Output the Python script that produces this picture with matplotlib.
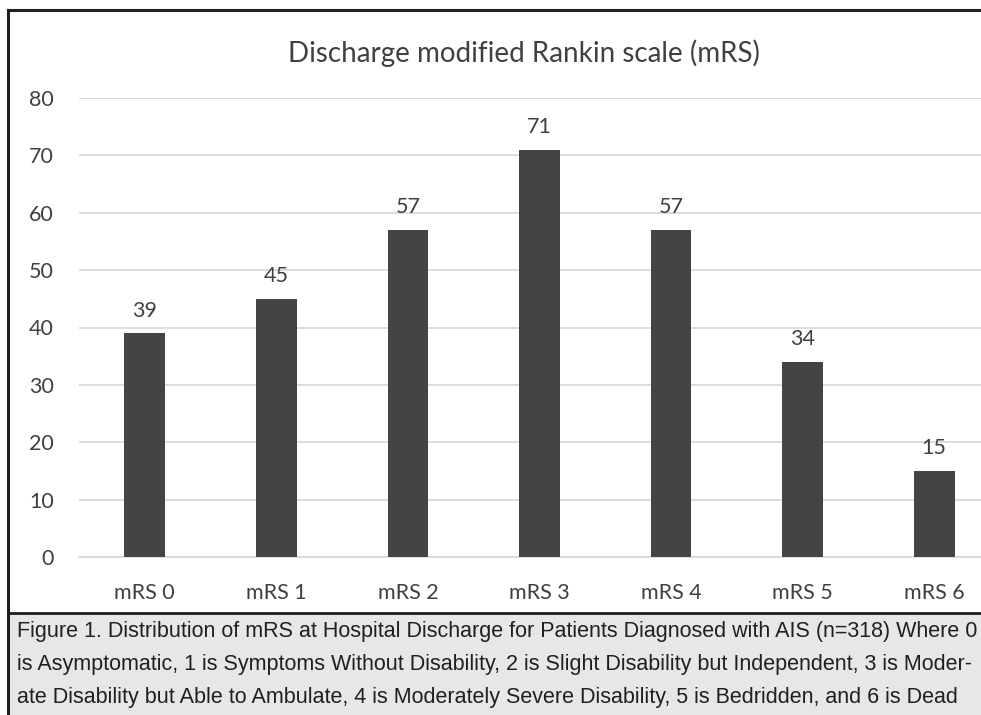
"""
Discharge modified Rankin scale (mRS) bar chart with figure caption.
Saved to out.png.
"""

import matplotlib
matplotlib.use("Agg")
import matplotlib.pyplot as plt
from matplotlib import font_manager
from matplotlib.patches import Rectangle
from matplotlib.lines import Line2D

# --- data -------------------------------------------------------------------
categories = ["mRS 0", "mRS 1", "mRS 2", "mRS 3", "mRS 4", "mRS 5", "mRS 6"]
patients = [39, 45, 57, 71, 57, 34, 15]
y_ticks = [0, 10, 20, 30, 40, 50, 60, 70, 80]

title = "Discharge modified Rankin scale (mRS)"
caption_lines = [
    "Figure 1. Distribution of mRS at Hospital Discharge for Patients Diagnosed with AIS (n=318) Where 0",
    "is Asymptomatic, 1 is Symptoms Without Disability, 2 is Slight Disability but Independent, 3 is Moder-",
    "ate Disability but Able to Ambulate, 4 is Moderately Severe Disability, 5 is Bedridden, and 6 is Dead",
]

COLORS = {
    "bar":     "#444444",
    "grid":    "#d9d9d9",
    "text":    "#404040",
    "caption": "#231f20",
    "cap_bg":  "#e6e7e8",
    "border":  "#231f20",
}

installed = {f.name for f in font_manager.fontManager.ttflist}
CHART_FONT = ["Lato", "DejaVu Sans"]
if "Liberation Sans Narrow" in installed:
    CAP_FONT, CAP_SIZE = ["Liberation Sans Narrow", "DejaVu Sans"], 17.5
else:
    CAP_FONT, CAP_SIZE = ["Liberation Sans", "DejaVu Sans"], 15.5

W, H = 981, 715
fig = plt.figure(figsize=(W / 100, H / 100), dpi=100)
fig.patch.set_facecolor("white")

def px(x, y):
    return x / W, 1 - y / H

# caption band and outer frame
fig.add_artist(Rectangle(px(8, 715), 1, (715 - 613) / H, transform=fig.transFigure,
                         facecolor=COLORS["cap_bg"], edgecolor="none", zorder=0))
fig.add_artist(Line2D([8 / W, 1], [1 - 613 / H] * 2, transform=fig.transFigure,
                      color=COLORS["border"], lw=2.0))
fig.add_artist(Line2D([8 / W, 1], [1 - 10 / H] * 2, transform=fig.transFigure,
                      color=COLORS["border"], lw=2.2))
fig.add_artist(Line2D([8 / W, 8 / W], [1 - 10 / H, 0], transform=fig.transFigure,
                      color=COLORS["border"], lw=2.2))

# plot area extends past the right edge (source picture is cropped)
left, top = px(79, 98)
_, bottom = px(0, 557)
ax = fig.add_axes([left, bottom, 1000 / W - left, top - bottom])
ax.set_facecolor("none")

x = range(len(categories))
bars = ax.bar(x, patients, width=0.31, color=COLORS["bar"], zorder=3)
ax.bar_label(bars, labels=[str(v) for v in patients], padding=9,
             fontsize=15.5, color=COLORS["text"], family=CHART_FONT)

ax.set_xlim(-0.5, len(categories) - 0.5)
ax.set_ylim(0, 80)
ax.set_yticks(y_ticks)
ax.set_xticks(list(x))
ax.set_xticklabels(categories)
ax.grid(True, axis="y", color=COLORS["grid"], lw=1.3, zorder=0)
for s in ["top", "right", "left"]:
    ax.spines[s].set_visible(False)
ax.spines["bottom"].set_color(COLORS["grid"])
ax.spines["bottom"].set_linewidth(1.3)
ax.tick_params(axis="both", length=0, labelsize=15.5, labelcolor=COLORS["text"])
ax.tick_params(axis="y", pad=18)
ax.tick_params(axis="x", pad=19)
for lbl in ax.get_xticklabels() + ax.get_yticklabels():
    lbl.set_family(CHART_FONT)

tx, ty = px(524, 53)
fig.text(tx, ty, title, ha="center", va="center", fontsize=20,
         color=COLORS["text"], family=CHART_FONT)

for i, line in enumerate(caption_lines):
    cx, cy = px(17, 632 + i * 32.5)
    fig.text(cx, cy, line, ha="left", va="center", fontsize=CAP_SIZE,
             color=COLORS["caption"], family=CAP_FONT)

fig.savefig("out.png", dpi=100)
